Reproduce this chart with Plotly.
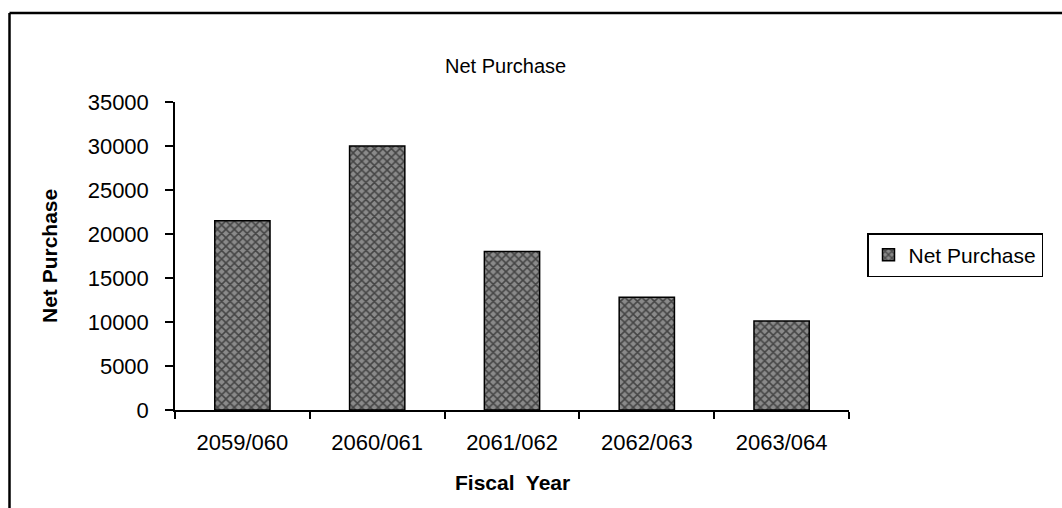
import plotly.graph_objects as go

categories = ["2059/060", "2060/061", "2061/062", "2062/063", "2063/064"]
net_purchase = [21500, 30000, 18000, 12800, 10100]
y_ticks = [0, 5000, 10000, 15000, 20000, 25000, 30000, 35000]

FONT = "Liberation Sans, Arial, sans-serif"

fig = go.Figure()
fig.add_trace(go.Bar(
    x=categories,
    y=net_purchase,
    name="Net Purchase",
    marker=dict(
        color="#5a5a5a",
        line=dict(color="black", width=1.5),
        pattern=dict(shape="x", fgcolor="#000000", bgcolor="#8a8a8a", size=6, solidity=0.45),
    ),
    width=0.41,
))

W, H = 1062, 508
L, R, T, B = 175, 849, 102, 410  # plot area pixel edges

def px(xp):
    return (xp - L) / (R - L)

def py(yp):
    return (B - yp) / (B - T)

fig.update_layout(
    width=W, height=H, autosize=False,
    margin=dict(l=L, r=W - R, t=T, b=H - B),
    paper_bgcolor="white", plot_bgcolor="white",
    font=dict(family=FONT, color="black", size=21),
    showlegend=True,
    legend=dict(
        x=px(867), xanchor="left", y=py(255), yanchor="middle",
        bordercolor="black", borderwidth=1.5,
        font=dict(family=FONT, size=21, color="black"),
        bgcolor="white",
    ),
    bargap=0.59,
)

fig.update_xaxes(
    type="category",
    showline=True, linecolor="black", linewidth=1.5,
    ticks="outside", tickson="boundaries", ticklen=7, tickcolor="black", tickwidth=1.5,
    tickfont=dict(family=FONT, size=22, color="black"),
    ticklabelstandoff=12,
    showgrid=False, zeroline=False,
)
fig.update_yaxes(
    range=[0, 35000], tickvals=y_ticks, ticktext=[str(v) for v in y_ticks],
    showline=True, linecolor="black", linewidth=1.5,
    ticks="outside", ticklen=8, tickcolor="black", tickwidth=1.5,
    tickfont=dict(family=FONT, size=22, color="black"),
    ticklabelstandoff=12,
    showgrid=False, zeroline=False,
)

# Titles as annotations
fig.add_annotation(text="Net Purchase", xref="paper", yref="paper",
                   x=px(505), y=py(66), xanchor="center", yanchor="middle",
                   showarrow=False,
                   font=dict(family=FONT, size=20, color="black"))
fig.add_annotation(text="<b>Net Purchase</b>", xref="paper", yref="paper",
                   x=px(49), y=py(256), xanchor="center", yanchor="middle",
                   textangle=-90, showarrow=False,
                   font=dict(family=FONT, size=21, color="black"))
fig.add_annotation(text="<b>Fiscal  Year</b>", xref="paper", yref="paper",
                   x=px(512), y=py(482), xanchor="center", yanchor="middle",
                   showarrow=False,
                   font=dict(family=FONT, size=21, color="black"))

# Outer frame (left and top edges visible)
fig.add_shape(type="line", xref="paper", yref="paper",
              x0=px(9.5), x1=px(9.5), y0=py(13), y1=py(530),
              line=dict(color="black", width=2.5))
fig.add_shape(type="line", xref="paper", yref="paper",
              x0=px(9.5), x1=px(1075), y0=py(13), y1=py(13),
              line=dict(color="black", width=2.5))

fig.write_html("out.html")
